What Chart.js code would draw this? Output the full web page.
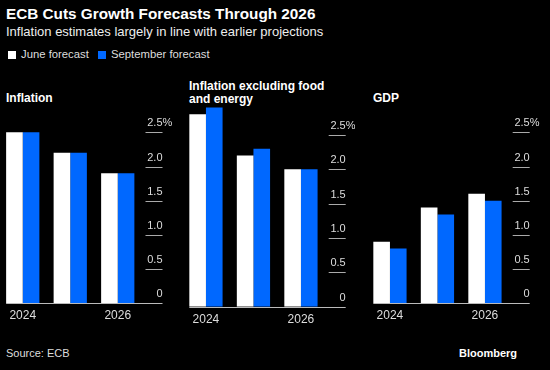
<!DOCTYPE html>
<html>
<head>
<meta charset="utf-8">
<script src="https://cdn.jsdelivr.net/npm/chart.js@4.4.1/dist/chart.umd.min.js"></script>
<style>
  body { margin: 0; background: #000; width: 550px; height: 370px; overflow: hidden; position: relative; font-family: "Liberation Sans", Arial, sans-serif; color: #fff; }
  .abs { position: absolute; white-space: nowrap; }
  #title { left: 6px; top: 5px; font-size: 15.3px; font-weight: bold; }
  #subtitle { left: 6px; top: 24px; font-size: 13px; color: #eee; }
  .legend { top: 48px; font-size: 11.3px; color: #ddd; }
  .sw { display: inline-block; width: 8px; height: 8px; margin-right: 5px; vertical-align: -1px; }
  .ptitle { font-size: 12px; font-weight: bold; line-height: 13px; }
  #source { left: 6px; top: 347px; font-size: 11px; color: #ddd; }
  #brand { right: 33px; top: 347px; font-size: 11px; font-weight: bold; }
  canvas { position: absolute; }
</style>
</head>
<body>
<div class="abs" id="title">ECB Cuts Growth Forecasts Through 2026</div>
<div class="abs" id="subtitle">Inflation estimates largely in line with earlier projections</div>
<div class="abs legend" style="left:8px"><span class="sw" style="background:#fff"></span>June forecast</div>
<div class="abs legend" style="left:98px"><span class="sw" style="background:#0068ff"></span>September forecast</div>

<div class="abs ptitle" style="left:6px;top:92px">Inflation</div>
<div class="abs ptitle" style="left:189px;top:80px">Inflation excluding food<br>and energy</div>
<div class="abs ptitle" style="left:373px;top:92px">GDP</div>

<canvas id="c1" width="180" height="240" style="left:-2px;top:90px"></canvas>
<canvas id="c2" width="175" height="240" style="left:180px;top:90px"></canvas>
<canvas id="c3" width="180" height="240" style="left:362px;top:90px"></canvas>

<div class="abs" id="source">Source: ECB</div>
<div class="abs" id="brand">Bloomberg</div>

<script>
const years = ['2024', '2025', '2026'];
const yearLabels = ['2024', '', '2026'];
const yTicks = [0, 0.5, 1, 1.5, 2, 2.5];

const inflationJune = [2.5, 2.2, 1.9];
const inflationSept = [2.5, 2.2, 1.9];
const coreJune = [2.8, 2.2, 2.0];
const coreSept = [2.9, 2.3, 2.0];
const gdpJune = [0.9, 1.4, 1.6];
const gdpSept = [0.8, 1.3, 1.5];

const white = '#ffffff';
const blue = '#0068ff';
const catPct = 0.7;

// axis decorations: short tick lines on the right, baseline, year labels
const axisDeco = {
  id: 'axisDeco',
  afterDraw(chart) {
    const c = chart.ctx;
    const area = chart.chartArea;
    const x = chart.scales.x;
    const y = chart.scales.y;
    const catW = (area.right - area.left) / years.length;
    const x0 = area.left + catW * (1 - catPct) / 2;
    const xEnd = area.right + 21;
    c.save();
    c.lineWidth = 1;
    c.strokeStyle = '#aaa';
    c.fillStyle = '#ddd';
    c.font = '11px "Liberation Sans", Arial, sans-serif';
    c.textBaseline = 'middle';
    yTicks.forEach(function (v) {
      const py = Math.round(y.getPixelForValue(v)) + 0.5;
      if (v > 0) {
        c.beginPath();
        c.moveTo(area.right + 4, py);
        c.lineTo(xEnd, py);
        c.stroke();
      }
      const txt = v === 0 ? '0' : v.toFixed(1);
      c.textAlign = 'right';
      c.fillText(txt, xEnd, py - 10);
      if (v === 2.5) {
        c.textAlign = 'left';
        c.fillText('%', xEnd, py - 10);
      }
    });
    const by = Math.round(y.getPixelForValue(0)) + 0.5;
    c.strokeStyle = '#bbb';
    c.beginPath();
    c.moveTo(x0, by);
    c.lineTo(xEnd, by);
    c.stroke();
    c.font = '12px "Liberation Sans", Arial, sans-serif';
    c.textAlign = 'center';
    yearLabels.forEach(function (lab, i) {
      if (lab) c.fillText(lab, x.getPixelForValue(i), by + 12);
    });
    c.restore();
  }
};

function panel(id, june, sept, pad) {
  new Chart(document.getElementById(id), {
    type: 'bar',
    data: {
      labels: years,
      datasets: [
        { label: 'June forecast', data: june, backgroundColor: white },
        { label: 'September forecast', data: sept, backgroundColor: blue }
      ]
    },
    options: {
      responsive: false,
      animation: false,
      categoryPercentage: catPct,
      barPercentage: 1.0,
      layout: { padding: pad },
      plugins: { legend: { display: false }, tooltip: { enabled: false } },
      scales: {
        x: { display: false },
        y: { display: false, min: 0, max: 3 }
      }
    },
    plugins: [axisDeco]
  });
}

panel('c1', inflationJune, inflationSept, { left: 1, right: 36.5, top: 8.1, bottom: 26.7 });
panel('c2', coreJune, coreSept, { left: 2.2, right: 30.3, top: 10.6, bottom: 23.3 });
panel('c3', gdpJune, gdpSept, { left: 4.2, right: 33.3, top: 8.1, bottom: 26.7 });
</script>
</body>
</html>
